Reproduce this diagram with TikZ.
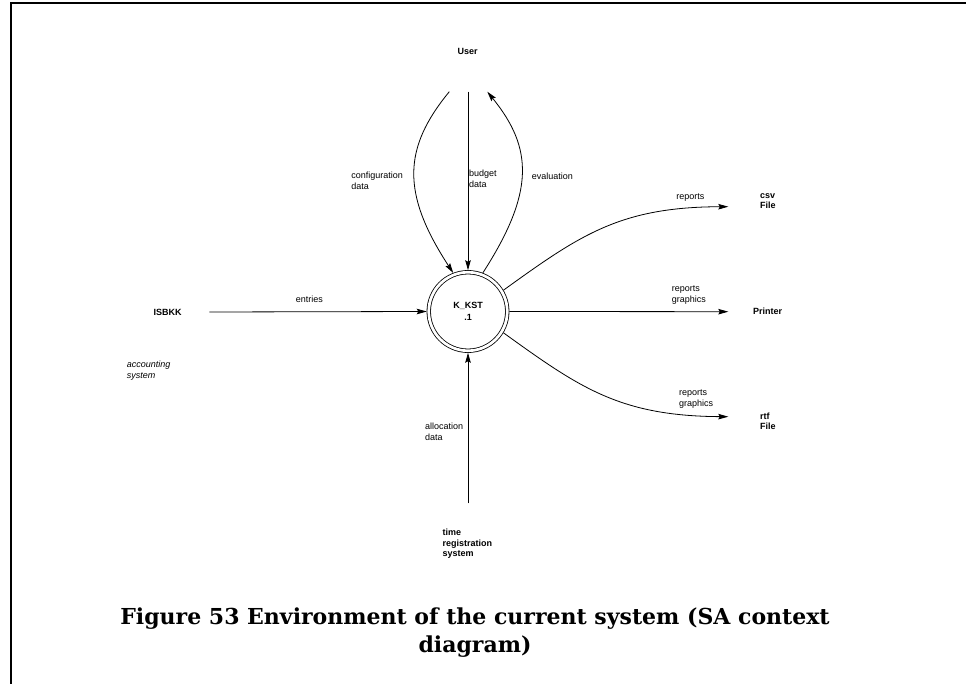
\documentclass[tikz,border=0pt]{standalone}
\usepackage{fontspec}
\setmainfont{Liberation Sans}
\newfontfamily\captionserif{DejaVu Serif}
\usetikzlibrary{arrows.meta}
\begin{document}
\begin{tikzpicture}[x=1pt,y=-1pt,
  lbl/.style={font=\fontsize{9}{10.5}\selectfont, inner sep=0pt, align=left},
  ent/.style={font=\fontsize{9}{10.5}\selectfont\bfseries, inner sep=0pt, align=left},
  flow/.style={line width=0.8pt, -{Stealth[length=10pt,width=5.5pt,inset=1.5pt]}},
  proc/.style={circle, draw, line width=0.8pt, double, double distance=2.7pt,
    minimum size=78.5pt, inner sep=0pt, outer sep=2pt, align=center,
    font=\fontsize{9}{11.5}\selectfont\bfseries},
  frame/.style={line width=2pt}]
\useasboundingbox (0,0) rectangle (966,684);

% page frame (top and left rules)
\draw[frame] (10,3) -- (966,3);
\draw[frame] (11,3) -- (11,684);

% the process
\node[proc] (proc) at (468,311.5) {K\_KST\\.1};

% external entities
\node[ent, align=center] (user) at (467.7,51) {User};
\node[ent] (isbkk) at (167.7,312.3) {ISBKK};
\node[lbl, anchor=west, font=\fontsize{9}{10.5}\selectfont\itshape] (acct) at (126.7,370.5) {accounting\\system};
\node[ent, anchor=west] (csv) at (760,201.3) {csv\\File};
\node[ent] (printer) at (767.7,311.7) {Printer};
\node[ent, anchor=west] (rtf) at (760,421.3) {rtf\\File};
\node[ent, anchor=west] (trs) at (442.3,544) {time\\registration\\system};

% free ends of the flows
\coordinate (ucfg) at (449.3,91.7);
\coordinate (ubud) at (468,91.7);
\coordinate (ueva) at (487.3,91.7);
\coordinate (iout) at (209.3,312);
\coordinate (pin) at (728.3,311.7);
\coordinate (cin) at (728.3,206.7);
\coordinate (rin) at (728.3,416.7);
\coordinate (tout) at (468,503.3);

% flows
\draw[flow] (ucfg) .. controls (403,148) and (401,193) .. (proc.111);
\draw[flow] (ubud) -- (proc.north);
\draw[flow] (proc.69) .. controls (535,192) and (533,148) .. (ueva);
\draw[flow] (iout) -- (proc.west);
\draw[flow] (proc.east) -- (pin);
\draw[flow] (proc.31) .. controls (580,235) and (620,207) .. (cin);
\draw[flow] (proc.-31) .. controls (580,388) and (620,416) .. (rin);
\draw[flow] (tout) -- (proc.south);

% flow labels
\node[lbl, anchor=east] (lcfg) at (403,181) {configuration\\data};
\node[lbl, anchor=west] (lbud) at (469,178.7) {budget\\data};
\node[lbl, anchor=west] (leva) at (531.7,176) {evaluation};
\node[lbl] (lent) at (309.3,299.3) {entries};
\node[lbl] (lcsv) at (690.3,197.3) {reports};
\node[lbl, anchor=west] (lprn) at (671.7,295) {reports\\graphics};
\node[lbl, anchor=west] (lrtf) at (679,399.2) {reports\\graphics};
\node[lbl, anchor=west] (lall) at (425,431.7) {allocation\\data};

% caption
\node[font=\captionserif\fontsize{22}{28}\selectfont\bfseries, align=center, inner sep=0pt] (cap) at (475,633)
  {Figure 53 Environment of the current system (SA context\\diagram)};
\end{tikzpicture}
\end{document}
